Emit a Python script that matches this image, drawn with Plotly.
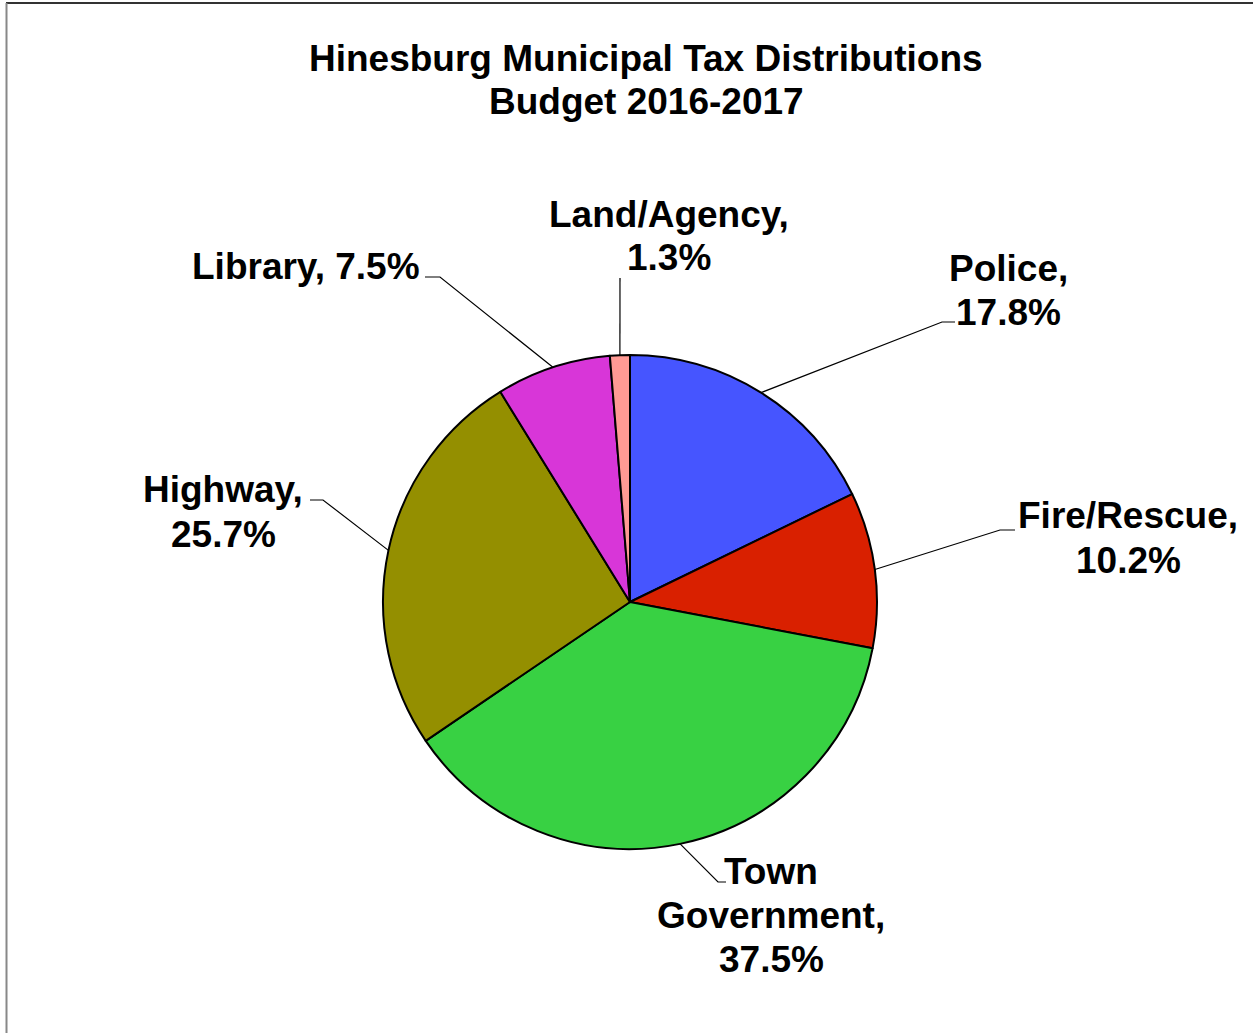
import math
import plotly.graph_objects as go

# Budget shares (percent of municipal tax), clockwise from 12 o'clock
categories = ["Police", "Fire/Rescue", "Town Government", "Highway", "Library", "Land/Agency"]
shares = [17.8, 10.2, 37.5, 25.7, 7.5, 1.3]
label_lines = [
    ["Police,", "17.8%"],
    ["Fire/Rescue,", "10.2%"],
    ["Town", "Government,", "37.5%"],
    ["Highway,", "25.7%"],
    ["Library, 7.5%"],
    ["Land/Agency,", "1.3%"],
]
title_lines = ["Hinesburg Municipal Tax Distributions", "Budget 2016-2017"]
colors = ["#4655FF", "#D92000", "#38D143", "#948F00", "#D836D8", "#FF9A94"]

W, H = 1253, 1033
CX, CY, R = 630, 602, 247  # pie centre and radius in pixels
LINE_GAP = 44              # spacing between text lines in pixels
FONT_SIZE = 37

# label block centre, elbow of the leader line, and end of the short horizontal stub (pixels)
label_layout = {
    "Police": dict(pos=(1008, 290), elbow=(942, 322), end=(955, 322)),
    "Fire/Rescue": dict(pos=(1128, 538), elbow=(1000, 530), end=(1015, 530)),
    "Town Government": dict(pos=(771, 915), elbow=(718, 882), end=(726, 882)),
    "Highway": dict(pos=(223, 512), elbow=(323, 500), end=(310, 500)),
    "Library": dict(pos=(306, 267), elbow=(440, 277), end=(425, 277)),
    "Land/Agency": dict(pos=(669, 236), elbow=(620, 278), end=(620, 278)),
}


def px(x):
    return x / W


def py(y):
    return 1 - y / H


font = dict(family="Liberation Sans, Arial, sans-serif", size=FONT_SIZE, color="black")


def text_block(lines, cx, cy, gap):
    """Stack bold text lines centred on (cx, cy) with a fixed pixel gap."""
    out = []
    n = len(lines)
    for i, line in enumerate(lines):
        y = cy + (i - (n - 1) / 2) * gap
        out.append(dict(
            x=px(cx), y=py(y), xref="paper", yref="paper",
            text=f"<b>{line}</b>", showarrow=False,
            xanchor="center", yanchor="middle", font=font,
        ))
    return out


fig = go.Figure(
    go.Pie(
        labels=categories,
        values=shares,
        sort=False,
        direction="clockwise",
        rotation=0,
        textinfo="none",
        hoverinfo="label+percent",
        marker=dict(colors=colors, line=dict(color="black", width=2)),
        domain=dict(x=[px(CX - R), px(CX + R)], y=[py(CY + R), py(CY - R)]),
        showlegend=False,
    )
)

shapes = []
annotations = []
total = sum(shares)
cum = 0.0
for name, val, lines in zip(categories, shares, label_lines):
    mid = (cum + val / 2) / total * 2 * math.pi
    cum += val
    sx = CX + R * math.sin(mid)
    sy = CY - R * math.cos(mid)
    lay = label_layout[name]
    ex, ey = lay["elbow"]
    tx, ty = lay["end"]
    shapes.append(dict(
        type="path", xref="paper", yref="paper",
        path=f"M {px(sx)} {py(sy)} L {px(ex)} {py(ey)} L {px(tx)} {py(ty)}",
        line=dict(color="black", width=1.2),
    ))
    lx, ly = lay["pos"]
    annotations += text_block(lines, lx, ly, LINE_GAP)

# chart title, two centred lines
annotations += text_block(title_lines, 646, 79.5, 43)

# chart frame: dark top edge and grey left edge
shapes.append(dict(type="line", xref="paper", yref="paper",
                   x0=px(6), x1=1, y0=py(3), y1=py(3),
                   line=dict(color="#333333", width=2)))
shapes.append(dict(type="line", xref="paper", yref="paper",
                   x0=px(6.5), x1=px(6.5), y0=py(3), y1=0,
                   line=dict(color="#888888", width=2)))

fig.update_layout(
    width=W, height=H,
    margin=dict(l=0, r=0, t=0, b=0),
    paper_bgcolor="white", plot_bgcolor="white",
    shapes=shapes,
    annotations=annotations,
)

fig.write_html("out.html")
